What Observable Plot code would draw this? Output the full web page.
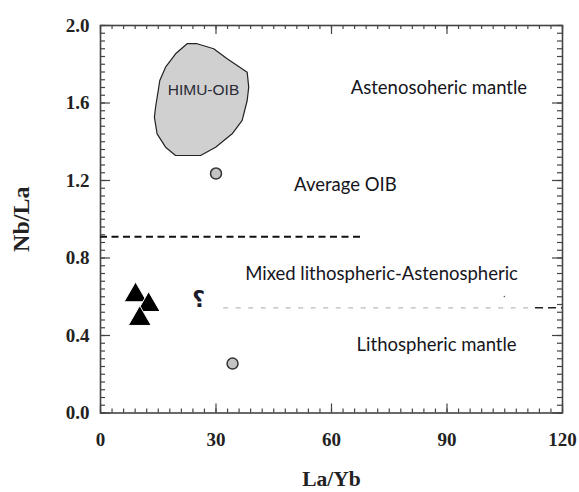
<!DOCTYPE html>
<html><head><meta charset="utf-8">
<script src="https://cdn.jsdelivr.net/npm/d3@7"></script>
<script src="https://cdn.jsdelivr.net/npm/@observablehq/plot@0.6"></script>
<style>body{margin:0;background:#fff}</style>
</head><body><div id="chart"></div>
<script>
// Axis ticks
const xMajor = [0, 30, 60, 90, 120];
const yMajor = [0, 0.4, 0.8, 1.2, 1.6, 2.0];
const xMinor = d3.range(0, 121, 3);
const yMinor = d3.range(0, 51).map(i => i * 0.04);

// HIMU-OIB field outline (La/Yb, Nb/La)
const himuX = [22.5, 25.1, 29.4, 32.9, 38.1, 38.5, 38.1, 36.8, 34.2, 29.9, 26.0, 19.5, 16.9, 14.7, 14.0, 14.3, 15.0, 15.4, 16.9, 19.5];
const himuY = [1.906, 1.906, 1.880, 1.828, 1.759, 1.682, 1.613, 1.510, 1.441, 1.372, 1.329, 1.329, 1.372, 1.441, 1.527, 1.578, 1.665, 1.716, 1.785, 1.854];

// Reference points (grey circles)
const refX = [30, 34.3];
const refY = [1.236, 0.255];

// Samples (black triangles)
const sampleX = [9.1, 12.5, 10.2];
const sampleY = [0.608, 0.558, 0.486];

// Boundary lines
const upperLine = {y: 0.91, x1: 0, x2: 68};
const lowerGrey = {y: 0.543, x1: 32, x2: 113};
const lowerDark = {y: 0.543, x1: 113, x2: 120};

// Field labels
const labelText = ["Astenosoheric mantle", "Average OIB", "Mixed lithospheric-Astenospheric", "Lithospheric mantle"];
const labelX = [87.9, 63.6, 73.0, 87.3];
const labelY = [1.675, 1.174, 0.718, 0.348];

const himu = himuX.map((x, i) => ({x, y: himuY[i]}));
const refs = refX.map((x, i) => ({x, y: refY[i]}));
const samples = sampleX.map((x, i) => ({x, y: sampleY[i]}));
const labels = labelText.map((t, i) => ({t, x: labelX[i], y: labelY[i]}));

const W = 579, H = 492, ML = 100, MR = 17, MT = 25, MB = 79.5;
const FW = W - ML - MR, FH = H - MT - MB;
const tk = {stroke: "#444", strokeWidth: 1.2};
const serif = {fontFamily: "Liberation Serif", fontWeight: "bold", fontSize: 19, fill: "#222"};

const chart = Plot.plot({
  width: W, height: H,
  marginLeft: ML, marginRight: MR, marginTop: MT, marginBottom: MB,
  x: {domain: [0, 120]},
  y: {domain: [0, 2]},
  style: {background: "#fff", fontFamily: "Lato"},
  marks: [
    // inward ticks on all four sides
    Plot.tickX(xMinor, {x: d => d, insetTop: FH - 4, ...tk}),
    Plot.tickX(xMajor, {x: d => d, insetTop: FH - 9, ...tk}),
    Plot.tickX(xMinor, {x: d => d, insetBottom: FH - 4, ...tk}),
    Plot.tickX(xMajor, {x: d => d, insetBottom: FH - 9, ...tk}),
    Plot.tickY(yMinor, {y: d => d, insetRight: FW - 5, ...tk}),
    Plot.tickY(yMajor, {y: d => d, insetRight: FW - 10, ...tk}),
    Plot.tickY(yMinor, {y: d => d, insetLeft: FW - 5, ...tk}),
    Plot.tickY(yMajor, {y: d => d, insetLeft: FW - 10, ...tk}),
    // tick labels
    Plot.axisX(xMajor, {anchor: "bottom", tickSize: 0, tickPadding: 19, label: null, tickFormat: d3.format(".0f"), ...serif}),
    Plot.axisY(yMajor, {anchor: "left", tickSize: 0, tickPadding: 11, label: null, tickFormat: d3.format(".1f"), ...serif}),
    Plot.frame({stroke: "#444", strokeWidth: 1.6}),
    // axis titles
    Plot.text(["Nb/La"], {frameAnchor: "left", textAnchor: "middle", lineAnchor: "middle", rotate: -90, dx: -79, text: d => d, fontFamily: "Liberation Serif", fontWeight: "bold", fontSize: 24, fill: "#222"}),
    Plot.text(["La/Yb"], {frameAnchor: "bottom", textAnchor: "middle", lineAnchor: "middle", dy: 66, text: d => d, fontFamily: "Liberation Serif", fontWeight: "bold", fontSize: 21.5, fill: "#222"}),
    // HIMU field
    Plot.line(himu, {x: "x", y: "y", curve: "linear-closed", fill: "#d0d0d0", stroke: "#222", strokeWidth: 1.2}),
    Plot.text(["HIMU-OIB"], {x: 26.75, y: 1.665, text: d => d, fontFamily: "Liberation Sans", fontSize: 15.5, fill: "#2a2a35"}),
    // boundaries
    Plot.ruleY([upperLine], {y: "y", x1: "x1", x2: "x2", stroke: "#111", strokeWidth: 2, strokeDasharray: "7,4.5"}),
    Plot.ruleY([lowerGrey], {y: "y", x1: "x1", x2: "x2", stroke: "#bbb", strokeWidth: 1.2, strokeDasharray: "5,7.5"}),
    Plot.ruleY([lowerDark], {y: "y", x1: "x1", x2: "x2", stroke: "#222", strokeWidth: 1.4, strokeDasharray: "8,5"}),
    Plot.text(["؟"], {x: 25.5, y: 0.581, text: d => d, fontFamily: "DejaVu Sans", fontWeight: "bold", fontSize: 22, fill: "#1a1a2a"}),
    Plot.dot([{x: 104.9, y: 0.601}], {x: "x", y: "y", r: 0.8, fill: "#557"}),
    // points
    Plot.dot(refs, {x: "x", y: "y", r: 5.5, fill: "#c4c4c4", stroke: "#333", strokeWidth: 1.5}),
    Plot.dot(samples, {x: "x", y: "y", r: 8.5, symbol: "triangle", fill: "#000", stroke: "#fff", strokeWidth: 1}),
    // field labels
    Plot.text(labels, {x: "x", y: "y", text: "t", fontFamily: "Lato", fontSize: 18.5, fill: "#151520"})
  ]
});
document.getElementById("chart").append(chart);
</script>
</body></html>
